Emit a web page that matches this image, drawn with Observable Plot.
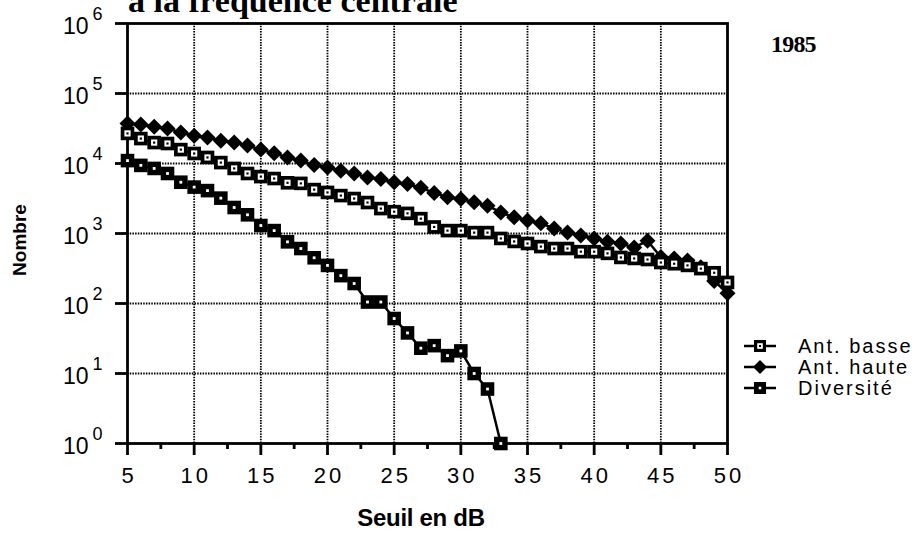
<!DOCTYPE html>
<html><head><meta charset="utf-8">
<script src="https://cdn.jsdelivr.net/npm/d3@7"></script>
<script src="https://cdn.jsdelivr.net/npm/@observablehq/plot@0.6"></script>
<style>
html,body{margin:0;padding:0;background:#fff;overflow:hidden;}
#wrap{position:relative;width:920px;height:534px;overflow:hidden;background:#fff;}
#chart{position:absolute;left:0;top:0;}
#chart g[font-variant="tabular-nums"] text{letter-spacing:3px;}
.abs{position:absolute;white-space:nowrap;color:#000;}
#title{left:128px;top:-16.5px;font:bold 34px "Liberation Serif",serif;line-height:34px;}
#year{left:771px;top:32px;font:bold 24px "Liberation Serif",serif;line-height:24px;letter-spacing:-0.8px;}
#ylab{left:19px;top:240px;font:bold 19px "Liberation Sans",Arial,sans-serif;line-height:19px;transform:translate(-50%,-50%) rotate(-90deg);}
#xlab{left:421px;top:506px;font:bold 24px "Liberation Sans",Arial,sans-serif;line-height:24px;transform:translateX(-50%);letter-spacing:-0.3px;}
.leg{position:absolute;left:743px;height:20px;display:flex;align-items:center;font:20px "Liberation Sans",Arial,sans-serif;letter-spacing:2px;white-space:nowrap;}
.leg svg{width:34px;height:16px;margin-right:21px;}
</style>
</head><body>
<div id="wrap">
  <div id="chart"></div>
  <div id="title" class="abs">à la fréquence centrale</div>
  <div id="year" class="abs">1985</div>
  <div id="ylab" class="abs">Nombre</div>
  <div id="xlab" class="abs">Seuil en dB</div>
  <div id="legend"></div>
</div>
<script>
// ---- data ----
const seuil = [5,6,7,8,9,10,11,12,13,14,15,16,17,18,19,20,21,22,23,24,25,26,27,28,29,30,31,32,33,34,35,36,37,38,39,40,41,42,43,44,45,46,47,48,49,50];
const antBasse = [26900,22700,19900,19300,15800,13900,12200,10300,8500,7200,6500,6100,5300,5200,4240,3860,3480,3160,2770,2270,2050,1940,1630,1240,1100,1100,1030,1030,850,770,720,650,610,610,550,550,520,455,440,425,385,370,350,315,275,200];
const antHaute = [37300,36000,33600,31600,27700,25000,23500,21200,19900,18100,15800,14000,12200,11000,9500,8800,7900,7200,6300,6000,5400,5100,4500,3800,3300,3100,2800,2500,2000,1700,1530,1400,1180,1030,940,850,760,720,630,790,460,440,410,330,210,140];
const diversiteSeuil = [5,6,7,8,9,10,11,12,13,14,15,16,17,18,19,20,21,22,23,24,25,26,27,28,29,30,31,32,33];
const diversite = [11000,9400,8500,7200,5400,4600,4100,3200,2350,1850,1300,1100,760,610,450,350,250,193,105,105,61,38,23,25,18,21,10,6,1];
const seriesNames = ["Ant. basse","Ant. haute","Diversité"];
const yTicks = [1,10,100,1000,10000,100000,1000000];
const yExponents = ["0","1","2","3","4","5","6"];
const xTicks = [5,10,15,20,25,30,35,40,45,50];
const xMinorTicks = [7.5,12.5,17.5,22.5,27.5,32.5,37.5,42.5,47.5];
const xGrid = [10,15,20,25,30,35,40,45];

// ---- tables ----
const basseRows = seuil.map((s,i) => ({seuil:s, value:antBasse[i], serie:seriesNames[0]}));
const hauteRows = seuil.map((s,i) => ({seuil:s, value:antHaute[i], serie:seriesNames[1]}));
const divRows = diversiteSeuil.map((s,i) => ({seuil:s, value:diversite[i], serie:seriesNames[2]}));

// ---- symbols (r = half width) ----
const sqSym = {draw(ctx,size){const r=Math.sqrt(size/Math.PI);ctx.moveTo(-r,-r);ctx.lineTo(r,-r);ctx.lineTo(r,r);ctx.lineTo(-r,r);ctx.closePath();}};
const diaSym = {draw(ctx,size){const r=Math.sqrt(size/Math.PI);ctx.moveTo(0,-r);ctx.lineTo(r,0);ctx.lineTo(0,r);ctx.lineTo(-r,0);ctx.closePath();}};

const grid = {stroke:"#000", strokeWidth:1.8, strokeDasharray:"1.5,1.2"};
const xy = {x:"seuil", y:"value"};

const plot = Plot.plot({
  width:920, height:534,
  marginLeft:127, marginRight:193, marginTop:23, marginBottom:91,
  style:{fontFamily:'"Liberation Sans", Arial, sans-serif', background:"transparent", color:"#000"},
  x:{domain:[5,50]},
  y:{type:"log", domain:[1,1e6]},
  marks:[
    Plot.ruleY(yTicks.slice(1,-1), grid),
    Plot.ruleX(xGrid, grid),
    Plot.frame({stroke:"#000", strokeWidth:2.8}),
    Plot.axisY(yTicks, {tickSize:12, strokeWidth:2.8, tickFormat:() => "", label:null}),
    Plot.axisX(xTicks, {tickSize:12, strokeWidth:2.8, tickFormat:() => "", label:null}),
    Plot.axisX(xMinorTicks, {tickSize:6, strokeWidth:2.8, tickFormat:() => "", label:null}),
    Plot.text(yTicks, {y:d => d, text:() => "10", frameAnchor:"left", textAnchor:"end", dx:-39, dy:3, fontSize:23, lineAnchor:"middle"}),
    Plot.text(yTicks, {y:d => d, text:(d,i) => yExponents[i], frameAnchor:"left", textAnchor:"start", dx:-35, dy:-9, fontSize:18, lineAnchor:"middle"}),
    Plot.text(xTicks, {x:d => d, text:d => String(d), frameAnchor:"bottom", dy:32, dx:1.5, fontSize:22, lineAnchor:"middle", fontVariant:"tabular-nums"}),
    // Ant. haute
    Plot.line(hauteRows, {...xy, stroke:"#000", strokeWidth:2.5}),
    Plot.dot(hauteRows, {...xy, symbol:diaSym, r:8, fill:"#000", stroke:"none"}),
    // Ant. basse
    Plot.line(basseRows, {...xy, stroke:"#000", strokeWidth:2.5}),
    Plot.dot(basseRows, {...xy, symbol:sqSym, r:6.8, fill:"#000", stroke:"none"}),
    Plot.dot(basseRows, {...xy, symbol:sqSym, r:3.1, fill:"#fff", stroke:"none"}),
    Plot.dot(basseRows, {...xy, symbol:sqSym, r:1.1, fill:"#000", stroke:"none"}),
    // Diversité
    Plot.line(divRows, {...xy, stroke:"#000", strokeWidth:2.5}),
    Plot.dot(divRows, {...xy, symbol:sqSym, r:6.8, fill:"#000", stroke:"none"}),
    Plot.dot(divRows, {...xy, symbol:sqSym, r:1.4, fill:"#fff", stroke:"none"})
  ]
});
document.getElementById("chart").appendChild(plot);

// ---- legend ----
const legendSymbols = [
  '<line x1="1" y1="8" x2="33" y2="8" stroke="#000" stroke-width="2.5"/><rect x="11" y="2" width="12" height="12" fill="#000"/><rect x="14.2" y="5.2" width="5.6" height="5.6" fill="#fff"/><rect x="16" y="7" width="2" height="2" fill="#000"/>',
  '<line x1="1" y1="8" x2="33" y2="8" stroke="#000" stroke-width="2.5"/><polygon points="17,1 24,8 17,15 10,8" fill="#000"/>',
  '<line x1="1" y1="8" x2="33" y2="8" stroke="#000" stroke-width="2.5"/><rect x="11" y="2" width="12" height="12" fill="#000"/><rect x="15.7" y="6.7" width="2.6" height="2.6" fill="#fff"/>'
];
const legendCenters = [346, 367, 388];
const legend = document.getElementById("legend");
seriesNames.forEach((name,i) => {
  const row = document.createElement("div");
  row.className = "leg";
  row.style.top = (legendCenters[i]-10) + "px";
  row.innerHTML = '<svg viewBox="0 0 34 16">' + legendSymbols[i] + '</svg><span>' + name + '</span>';
  legend.appendChild(row);
});
</script>
</body></html>
